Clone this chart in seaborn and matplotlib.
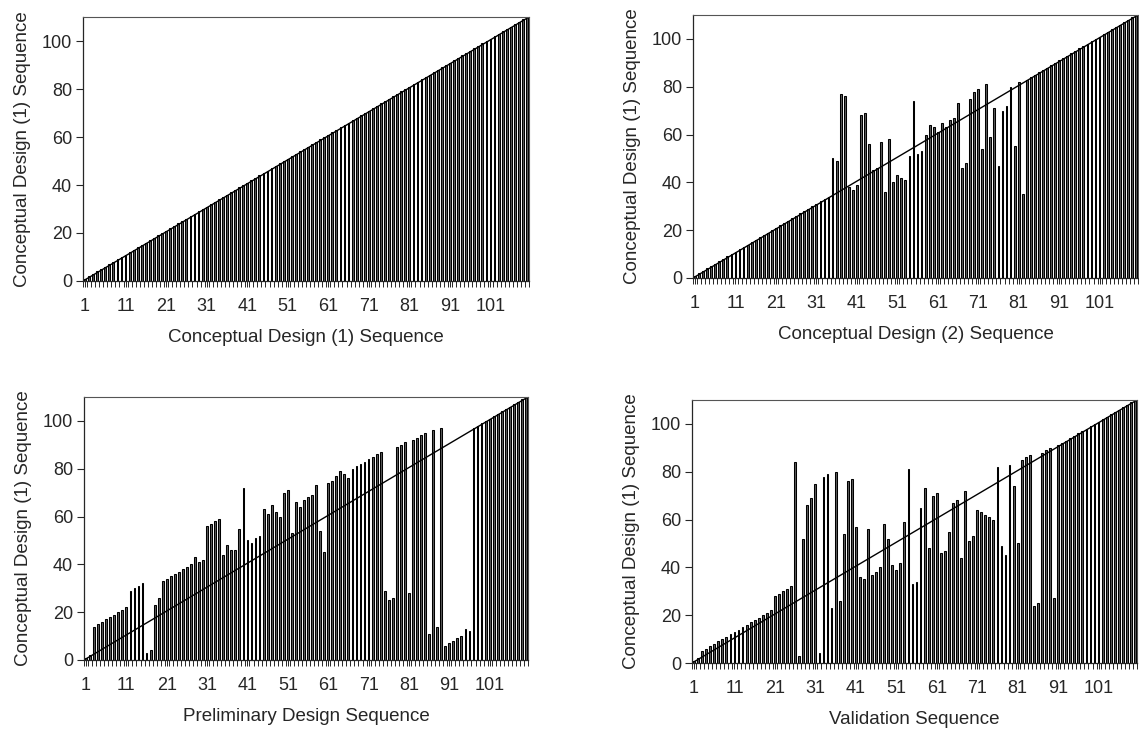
import numpy as np
import pandas as pd
import matplotlib
matplotlib.use("Agg")
import matplotlib.pyplot as plt
import seaborn as sns

# sequence position 1..110 on every x axis
seq = list(range(1, 111))

# panel 1: conceptual design (1) vs itself
cd1 = list(range(1, 111))

# panel 2: conceptual design (2)
cd2 = [1, 2, 3, 4, 5, 6, 7, 8, 9, 10, 11, 12, 13, 14, 15, 16, 17, 18, 19, 20,
       21, 22, 23, 24, 25, 26, 27, 28, 29, 30, 31, 32, 33, 34,
       50, 49, 77, 76, 38, 37, 39, 68, 69, 56, 45, 46, 57, 36, 58, 40,
       43, 42, 41, 51, 74, 52, 53, 60, 64, 63, 61, 65, 63, 66, 67, 73,
       46, 48, 75, 78, 79, 54, 81, 59, 71, 47, 70, 72, 80, 55, 82, 35, 83,
       84, 85, 86, 87, 88, 89, 90, 91, 92, 93, 94, 95, 96, 97, 98, 99, 100,
       101, 102, 103, 104, 105, 106, 107, 108, 109, 110]

# panel 3: preliminary design
prelim = [1, 2, 14, 15, 16, 17, 18, 19, 20, 21, 22, 29, 30, 31, 32, 3, 4, 23, 26, 33,
          34, 35, 36, 37, 38, 39, 40, 43, 41, 42, 56, 57, 58, 59, 44, 48, 46, 46, 55, 72,
          50, 49, 51, 52, 63, 61, 65, 62, 60, 70, 71, 53, 66, 64, 67, 68, 69, 73, 54, 45,
          74, 75, 77, 79, 78, 76, 80, 81, 82, 83, 84, 85, 86, 87, 29, 25, 26, 89, 90, 91,
          28, 92, 93, 94, 95, 11, 96, 14, 97, 6, 7, 8, 9, 10, 13, 12,
          97, 98, 99, 100, 101, 102, 103, 104, 105, 106, 107, 108, 109, 110]

# panel 4: validation
valid = [1, 2, 5, 6, 7, 8, 9, 10, 11, 12, 13, 14, 15, 16, 17, 18, 19, 20, 21, 22,
         28, 29, 30, 31, 32, 84, 3, 52, 66, 69, 75, 4, 78, 79, 23, 80, 26, 54, 76, 77,
         57, 36, 35, 56, 37, 38, 40, 58, 52, 41, 39, 42, 59, 81, 33, 34, 65, 73, 48, 70,
         71, 46, 47, 55, 67, 68, 44, 72, 51, 53, 64, 63, 62, 61, 60, 82, 49, 45, 83, 74,
         50, 85, 86, 87, 24, 25, 88, 89, 90, 27,
         91, 92, 93, 94, 95, 96, 97, 98, 99, 100, 101, 102, 103, 104, 105, 106, 107, 108, 109, 110]

xlabels = ["Conceptual Design (1) Sequence", "Conceptual Design (2) Sequence",
           "Preliminary Design Sequence", "Validation Sequence"]
ylabel = "Conceptual Design (1) Sequence"
xtick_labels = [str(i) for i in range(1, 102, 10)]
yticks = [0, 20, 40, 60, 80, 100]

sns.set_style("ticks")
plt.rcParams["font.family"] = ["Liberation Sans", "DejaVu Sans"]

fig = plt.figure(figsize=(11.39, 7.34), dpi=100)
W, H = 1139, 734
boxes = [(83, 529, 17, 281), (693, 1138, 15, 278), (84, 528, 397, 660), (692, 1137, 400, 663)]
series = [cd1, cd2, prelim, valid]

for (l, r, t, b), vals, xl in zip(boxes, series, xlabels):
    ax = fig.add_axes([l / W, 1 - b / H, (r - l) / W, (b - t) / H])
    df = pd.DataFrame({"seq": seq, "val": vals})
    sns.barplot(data=df, x="seq", y="val", ax=ax, color="#5a5a5a", saturation=1,
                edgecolor="black", linewidth=0.75, width=0.45, errorbar=None)
    n = len(seq)
    ax.plot([-0.5, n - 0.5], [0, 110], color="black", lw=1.0)
    ax.set_xlim(-0.5, n - 0.5)
    ax.set_ylim(0, 110)
    ax.set_xticks(range(0, 101, 10))
    ax.set_xticklabels(xtick_labels)
    ax.set_xticks(np.arange(-0.5, n, 1), minor=True)
    ax.set_yticks(yticks)
    ax.tick_params(axis="x", which="both", length=4.5, width=0.7, pad=8, labelsize=13)
    ax.tick_params(axis="y", length=5, width=0.8, pad=3, labelsize=13)
    for s in ["top", "right"]:
        ax.spines[s].set_visible(True)
        ax.spines[s].set_color("#555555")
        ax.spines[s].set_linewidth(0.8)
    ax.spines["left"].set_linewidth(0.9)
    ax.spines["bottom"].set_linewidth(0.9)
    ax.set_xlabel(xl, fontsize=13.5, labelpad=10)
    ax.set_ylabel(ylabel, fontsize=13.5, labelpad=8)

fig.savefig("out.png", dpi=100)
